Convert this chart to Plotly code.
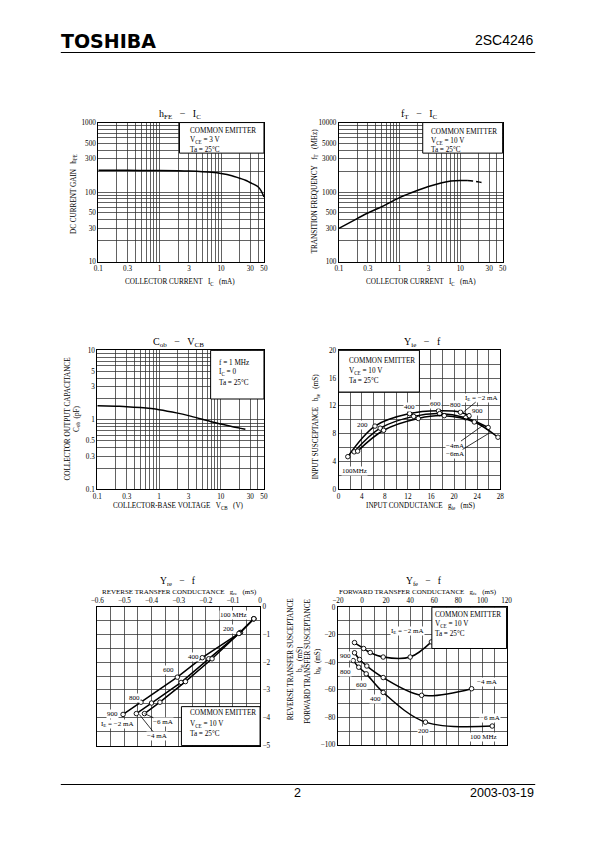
import math
import plotly.graph_objects as go

W, H = 595, 842
SERIF = "Liberation Serif"
SANS = "Liberation Sans"
NB = "\u00a0"
S3 = NB * 3
TXT = 7.2

# ---------------- data ----------------
# hFE - IC  (VCE = 3 V)
hfe_ic = [0.1, 0.3, 1, 2, 3, 5, 7, 10, 15, 20, 25, 30, 35, 40, 45, 50]
hfe_gain = [205, 205, 204, 202, 200, 196, 192, 185, 172, 158, 148, 136, 128, 119, 104, 85]

# fT - IC  (VCE = 10 V)
ft_ic = [0.1, 0.2, 0.3, 0.5, 1, 2, 3, 5, 7, 10, 13]
ft_mhz = [300, 415, 500, 610, 830, 1060, 1200, 1360, 1440, 1470, 1460]
ft_ic_dash = [13, 16, 20, 25]
ft_mhz_dash = [1460, 1440, 1400, 1345]

# Cob - VCB
cob_vcb = [0.1, 0.2, 0.3, 0.5, 1, 2, 3, 5, 7, 10, 15, 20, 25]
cob_pf = [1.6, 1.57, 1.55, 1.5, 1.4, 1.25, 1.15, 1.02, 0.94, 0.87, 0.8, 0.76, 0.73]

# frequencies of the marked points (MHz)
freq_mhz = [100, 200, 400, 600, 800, 900]

# yie - f
yie_g_2ma = [1.6, 6.3, 12.3, 17.3, 21.1, 22.6]
yie_b_2ma = [4.7, 9.1, 10.9, 11.3, 11.1, 10.6]
yie_g_4ma = [2.7, 7.2, 13.0, 17.5, 22.0, 25.9]
yie_b_4ma = [5.4, 8.8, 10.5, 10.9, 10.3, 8.9]
yie_g_6ma = [3.3, 7.8, 13.8, 18.3, 23.5, 27.6]
yie_b_6ma = [5.5, 8.5, 10.2, 10.6, 9.7, 7.5]

# yre - f
yre_g_2ma = [-0.023, -0.072, -0.213, -0.305, -0.439, -0.505]
yre_b_2ma = [-0.44, -0.93, -1.84, -2.54, -3.44, -3.88]
yre_g_4ma = [-0.023, -0.075, -0.189, -0.291, -0.400, -0.456]
yre_b_4ma = [-0.44, -0.95, -1.88, -2.73, -3.47, -3.85]
yre_g_6ma = [-0.023, -0.078, -0.177, -0.275, -0.369, -0.426]
yre_b_6ma = [-0.44, -0.97, -1.88, -2.70, -3.44, -3.85]

# yfe - f
yfe_g_2ma = [57.6, 40.0, 17.6, 6.8, 1.35, -6.2]
yfe_b_2ma = [-25.2, -36.2, -36.2, -32.9, -30.0, -25.7]
yfe_g_4ma = [91.0, 49.5, 17.6, 4.0, -2.0, -6.2]
yfe_b_4ma = [-59.2, -64.0, -51.1, -42.7, -38.0, -33.1]
yfe_g_6ma = [108.1, 52.7, 17.6, 3.5, -2.7, -7.3]
yfe_b_6ma = [-86.3, -83.5, -61.9, -48.4, -43.6, -38.8]

# tick labels
ic_labels = [0.1, 0.3, 1, 3, 10, 30, 50]
hfe_labels = [10, 30, 50, 100, 300, 500, 1000]
ft_labels = [100, 300, 500, 1000, 3000, 5000, 10000]
cob_labels = [0.1, 0.3, 0.5, 1, 3, 5, 10]
yie_x_labels = [0, 4, 8, 12, 16, 20, 24, 28]
yie_y_labels = [0, 4, 8, 12, 16, 20]
yre_x_labels = [-0.6, -0.5, -0.4, -0.3, -0.2, -0.1, 0]
yre_y_labels = [0, -1, -2, -3, -4, -5]
yfe_x_labels = [-20, 0, 20, 40, 60, 80, 100, 120]
yfe_y_labels = [0, -20, -40, -60, -80, -100]


def fmt(v):
    s = ("%g" % v)
    return s.replace("-", "\u2212")


def log_grid(lo_exp, hi_exp, top):
    vals = []
    for e in range(lo_exp, hi_exp + 1):
        for m in range(1, 10):
            v = round(m * 10 ** e, 6)
            if v <= top * 1.0001:
                vals.append(v)
    return vals


def lin_grid(lo, hi, step):
    n = int(round((hi - lo) / step))
    return [round(lo + i * step, 6) for i in range(n + 1)]


def ticktexts(vals, labels):
    out = []
    for v in vals:
        hit = [l for l in labels if abs(l - v) < 1e-6]
        out.append(fmt(hit[0]) if hit else "")
    return out


fig = go.Figure()


def axn(n):
    return ("x" if n == 1 else f"x{n}", "y" if n == 1 else f"y{n}")


def add_curve(n, xs, ys, dash=None, shape="spline", markers=False):
    xa, ya = axn(n)
    fig.add_trace(go.Scatter(
        x=xs, y=ys, xaxis=xa, yaxis=ya,
        mode="lines+markers" if markers else "lines",
        line=dict(color="black", width=1.5, shape=shape, dash=dash),
        marker=dict(symbol="circle", size=4.5, color="white",
                    line=dict(color="black", width=0.9)),
        hoverinfo="skip", showlegend=False))


add_curve(1, hfe_ic, hfe_gain)
add_curve(2, ft_ic, ft_mhz)
add_curve(2, ft_ic_dash, ft_mhz_dash, dash="6px,3px")
add_curve(3, cob_vcb, cob_pf)
add_curve(4, yie_g_2ma, yie_b_2ma, markers=True)
add_curve(4, yie_g_4ma, yie_b_4ma, markers=True)
add_curve(4, yie_g_6ma, yie_b_6ma, markers=True)
add_curve(5, yre_g_2ma, yre_b_2ma, shape="linear", markers=True)
add_curve(5, yre_g_4ma, yre_b_4ma, shape="linear", markers=True)
add_curve(5, yre_g_6ma, yre_b_6ma, shape="linear", markers=True)
add_curve(6, yfe_g_2ma, yfe_b_2ma, markers=True)
add_curve(6, yfe_g_4ma, yfe_b_4ma, markers=True)
add_curve(6, yfe_g_6ma, yfe_b_6ma, markers=True)

# ---------------- axes ----------------
base = dict(showline=True, linecolor="black", linewidth=1, mirror=True, ticks="",
            showgrid=True, gridcolor="#2e2e2e", gridwidth=0.75, zeroline=False,
            tickfont=dict(family=SERIF, size=7.2, color="black"), fixedrange=True,
            tickmode="array")


def dom_x(l, r):
    return [l / W, r / W]


def dom_y(t, b):
    return [1 - b / H, 1 - t / H]


ic_grid = log_grid(-1, 1, 50)
layout_axes = {}


def set_axes(n, xd, yd, xcfg, ycfg):
    xk = "xaxis" if n == 1 else f"xaxis{n}"
    yk = "yaxis" if n == 1 else f"yaxis{n}"
    xa, ya = axn(n)
    layout_axes[xk] = dict(base, domain=xd, anchor=ya, **xcfg)
    layout_axes[yk] = dict(base, domain=yd, anchor=xa, **ycfg)


logx = dict(type="log", range=[-1, math.log10(50)], tickvals=ic_grid,
            ticktext=ticktexts(ic_grid, ic_labels))

g = log_grid(1, 2, 1000) + [1000]
set_axes(1, dom_x(93.3, 262.7), dom_y(120.7, 261), logx,
         dict(type="log", range=[1, 3], tickvals=g, ticktext=ticktexts(g, hfe_labels)))
g = log_grid(2, 3, 10000) + [10000]
set_axes(2, dom_x(339.3, 506.7), dom_y(120.7, 261), logx,
         dict(type="log", range=[2, 4], tickvals=g, ticktext=ticktexts(g, ft_labels)))
g = log_grid(-1, 0, 10) + [10]
set_axes(3, dom_x(92.3, 262.7), dom_y(350.7, 491), logx,
         dict(type="log", range=[-1, 1], tickvals=g, ticktext=ticktexts(g, cob_labels)))
gx = lin_grid(0, 28, 2)
gy = lin_grid(0, 20, 2)
set_axes(4, dom_x(339, 504.3), dom_y(350.7, 491),
         dict(range=[0, 28], tickvals=gx, ticktext=ticktexts(gx, yie_x_labels)),
         dict(range=[0, 20], tickvals=gy, ticktext=ticktexts(gy, yie_y_labels)))
gx = lin_grid(-0.6, 0, 0.05)
gy = lin_grid(-5, 0, 0.5)
set_axes(5, dom_x(92.3, 258.7), dom_y(609.3, 749.7),
         dict(range=[-0.6, 0], side="top", tickvals=gx, ticktext=ticktexts(gx, yre_x_labels)),
         dict(range=[-5, 0], side="right", tickvals=gy, ticktext=ticktexts(gy, yre_y_labels)))
gx = lin_grid(-20, 120, 10)
gy = lin_grid(-100, 0, 10)
set_axes(6, dom_x(338.3, 510.7), dom_y(610, 749),
         dict(range=[-20, 120], side="top", tickvals=gx, ticktext=ticktexts(gx, yfe_x_labels)),
         dict(range=[-100, 0], tickvals=gy, ticktext=ticktexts(gy, yfe_y_labels)))

# ---------------- shapes ----------------
shapes = []


def box(n, x0, y0, x1=1, y1=1):
    xa, ya = axn(n)
    shapes.append(dict(type="rect", xref=f"{xa} domain", yref=f"{ya} domain",
                       x0=x0, y0=y0, x1=x1, y1=y1, fillcolor="white",
                       line=dict(color="black", width=1), layer="above"))


box(1, 0.49, 0.78)
box(2, 0.512, 0.78)
box(3, 0.68, 0.65)
box(4, 0.0, 0.70, 0.5, 1.0)
box(5, 0.517, 0.0, 1.0, 0.28)
box(6, 0.557, 0.70)

for yy in (50, 789):
    shapes.append(dict(type="line", xref="paper", yref="paper", x0=55 / W, x1=540 / W,
                       y0=1 - yy / H, y1=1 - yy / H, line=dict(color="black", width=1.2)))

# ---------------- annotations ----------------
ann = []


def ptxt(px, py, text, size=TXT, xanchor="center", angle=0, family=SERIF, bold=False):
    ann.append(dict(x=px / W, y=1 - py / H, xref="paper", yref="paper",
                    text=f"<b>{text}</b>" if bold else text, showarrow=False,
                    xanchor=xanchor, yanchor="middle", textangle=angle, borderpad=0,
                    font=dict(family=family, size=size, color="black")))


def dtxt(n, x, y, text, size=7, arrow_to=None):
    xa, ya = axn(n)
    d = dict(xref=xa, yref=ya, text=text, font=dict(family=SERIF, size=size, color="black"),
             bgcolor="white", borderpad=0)
    if arrow_to is None:
        d.update(x=x, y=y, showarrow=False)
    else:
        d.update(x=arrow_to[0], y=arrow_to[1], ax=x, ay=y, axref=xa, ayref=ya,
                 showarrow=True, arrowhead=0, arrowwidth=0.8, arrowcolor="black", standoff=0)
    ann.append(d)


# header / footer
ptxt(54, 38.5, "TOSHIBA", size=19, xanchor="left", family="DejaVu Sans", bold=True)
ptxt(540, 37, "2SC4246", size=14, xanchor="right", family=SANS)
ptxt(297, 798, "2", size=12.5, family=SANS)
ptxt(540, 798, "2003-03-19", size=12.5, xanchor="right", family=SANS)

# titles
ptxt(176.7, 113, f"h<sub>FE</sub>{S3}\u2212{S3}I<sub>C</sub>", size=10)
ptxt(421.7, 113, f"f<sub>T</sub>{S3}\u2212{S3}I<sub>C</sub>", size=10)
ptxt(175, 342.5, f"C<sub>ob</sub>{S3}\u2212{S3}V<sub>CB</sub>", size=10)
ptxt(425, 342.5, f"Y<sub>ie</sub>{S3}\u2212{S3}f", size=10)
ptxt(175, 584.5, f"Y<sub>re</sub>{S3}\u2212{S3}f", size=9.5)
ptxt(426.7, 584.5, f"Y<sub>fe</sub>{S3}\u2212{S3}f", size=9.5)

# axis titles
ptxt(176.7, 281.7, f"COLLECTOR CURRENT{S3}I<sub>C</sub>{S3}(mA)")
ptxt(423.3, 281.7, f"COLLECTOR CURRENT{S3}I<sub>C</sub>{S3}(mA)")
ptxt(175, 508.3, f"COLLECTOR-BASE VOLTAGE{S3}V<sub>CB</sub>{S3}(V)")
ptxt(423.3, 508.3, f"INPUT CONDUCTANCE{S3}g<sub>ie</sub>{S3}(mS)")
ptxt(176, 594.8, f"REVERSE TRANSFER CONDUCTANCE{S3}g<sub>re</sub>{S3}(mS)", size=7)
ptxt(420, 594.8, f"FORWARD TRANSFER CONDUCTANCE{S3}g<sub>fe</sub>{S3}(mS)", size=7)

ptxt(68.3, 193, f"DC CURRENT GAIN{S3}h<sub>FE</sub>", angle=-90)
ptxt(315, 190, f"TRANSITION FREQUENCY{S3}f<sub>T</sub>{S3}(MHz)", angle=-90)
ptxt(67, 420, f"COLLECTOR OUTPUT CAPACITANCE<br>C<sub>ob</sub>{NB*2}(pF)", angle=-90)
ptxt(317.3, 427, f"INPUT SUSCEPTANCE{S3}b<sub>ie</sub>{S3}(mS)", angle=-90)
ptxt(295, 662, f"REVERSE TRANSFER SUSCEPTANCE<br>b<sub>re</sub>{NB*2}(mS)", angle=-90)
ptxt(313, 665, f"FORWARD TRANSFER SUSCEPTANCE<br>b<sub>fe</sub>{NB*2}(mS)", angle=-90)


# legend boxes text
def legend(px, pys, lines):
    for py, t in zip(pys, lines):
        ptxt(px, py, t, xanchor="left")


ce = "COMMON EMITTER"
ta = "Ta = 25\u00b0C"
legend(186, [129.3, 138.8, 148], [ce, "V<sub>CE</sub> = 3 V", ta])
legend(432.7, [130.7, 139.8, 148.8], [ce, "V<sub>CE</sub> = 10 V", ta])
legend(216, [363.3, 373.3, 383.3], ["f = 1 MHz", "I<sub>C</sub> = 0", ta])
legend(348.3, [361.7, 371.7, 381.7], [ce, "V<sub>CE</sub> = 10 V", ta])
legend(186, [716.7, 728.3, 738.3], [ce, "V<sub>CE</sub> = 10 V", ta])
legend(436.7, [618.3, 627.8, 637], [ce, "V<sub>CE</sub> = 10 V", ta])

# curve labels: yie
ie2 = f"I<sub>E</sub> = \u22122 mA"
dtxt(4, 24.7, 13.2, ie2, arrow_to=(21.6, 11.1))
dtxt(4, 24.1, 11.3, "900")
dtxt(4, 20.3, 12.1, "800")
dtxt(4, 16.8, 12.3, "600")
dtxt(4, 12.3, 11.8, "400")
dtxt(4, 4.2, 9.2, "200")
dtxt(4, 2.7, 2.7, "100MHz")
dtxt(4, 20.1, 6.3, "\u22124mA", arrow_to=(25.0, 9.2))
dtxt(4, 20.2, 5.1, "\u22126mA", arrow_to=(26.3, 8.2))

# yre
dtxt(5, -0.099, -0.32, "100 MHz")
dtxt(5, -0.117, -0.80, "200")
dtxt(5, -0.245, -1.81, "400")
dtxt(5, -0.337, -2.30, "600")
dtxt(5, -0.462, -3.29, "800")
dtxt(5, -0.543, -3.85, "900")
dtxt(5, -0.525, -4.24, ie2)
dtxt(5, -0.357, -4.16, "\u22126 mA", arrow_to=(-0.426, -3.85))
dtxt(5, -0.381, -4.66, "\u22124 mA", arrow_to=(-0.445, -3.88))

# yfe
dtxt(6, 38.0, -17.5, ie2)
dtxt(6, 103.5, -54.0, "\u22124 mA")
dtxt(6, 106.0, -80.3, "\u22126 mA")
dtxt(6, 101.0, -94.0, "100 MHz")
dtxt(6, 51.0, -90.0, "200")
dtxt(6, 11.0, -67.0, "400")
dtxt(6, -0.8, -56.4, "600")
dtxt(6, -13.5, -46.8, "800")
dtxt(6, -13.5, -35.5, "900")

fig.update_layout(
    width=W, height=H, margin=dict(l=0, r=0, t=0, b=0),
    paper_bgcolor="white", plot_bgcolor="white", showlegend=False,
    shapes=shapes, annotations=ann, **layout_axes)

fig.write_html(
    "out.html",
    config={"displayModeBar": False, "staticPlot": True},
    post_script="document.body.style.margin='0';document.body.style.overflow='hidden';")
